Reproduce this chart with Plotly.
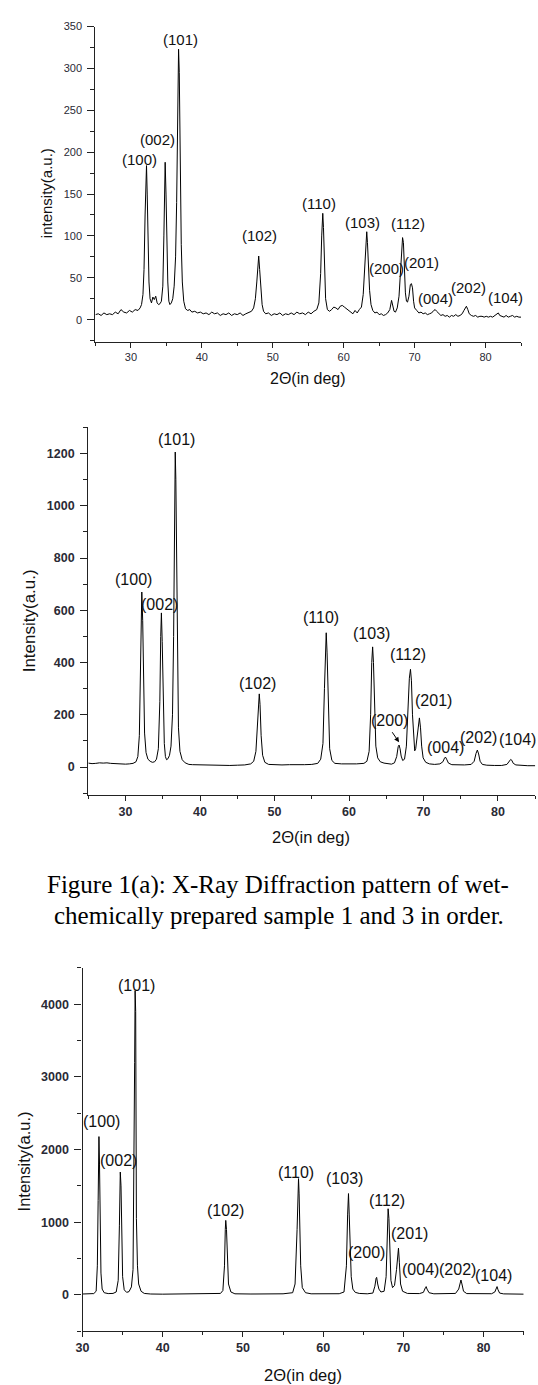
import plotly.graph_objects as go

# ---------------- data ----------------
# Sample 1 (top chart)
x1 = [25.0, 25.4, 25.8, 26.2, 26.6, 27.0, 27.4, 27.8, 28.2, 28.6, 29.0, 29.4, 29.8, 30.2, 30.6, 31.0,
      31.3, 31.5, 31.7, 31.85, 32.0, 32.1, 32.2, 32.3, 32.4, 32.55, 32.7, 32.9, 33.1, 33.3, 33.5, 33.7,
      33.9, 34.1, 34.3, 34.5, 34.65, 34.75, 34.83, 34.95, 35.05, 35.2, 35.35, 35.5, 35.7, 35.9, 36.1,
      36.3, 36.45, 36.6, 36.72, 36.82, 36.95, 37.1, 37.25, 37.45, 37.7, 38.0, 38.3, 38.6, 39.0, 39.4,
      39.8, 40.2, 40.6, 41.0, 41.4, 41.8, 42.2, 42.6, 43.0, 43.4, 43.8, 44.2, 44.6, 45.0, 45.4, 45.8,
      46.2, 46.6, 47.0, 47.3, 47.55, 47.75, 47.9, 48.02, 48.15, 48.3, 48.5, 48.7, 49.0, 49.4, 49.8,
      50.2, 50.6, 51.0, 51.4, 51.8, 52.2, 52.6, 53.0, 53.4, 53.8, 54.2, 54.6, 55.0, 55.4, 55.8, 56.2,
      56.5, 56.75, 56.9, 57.05, 57.15, 57.3, 57.45, 57.7, 58.0, 58.3, 58.6, 58.9, 59.2, 59.5, 59.8,
      60.1, 60.4, 60.7, 61.0, 61.3, 61.6, 61.9, 62.2, 62.5, 62.75, 62.95, 63.1, 63.25, 63.35, 63.5,
      63.65, 63.85, 64.1, 64.4, 64.7, 65.0, 65.3, 65.6, 65.9, 66.2, 66.5, 66.75, 66.9, 67.1, 67.3,
      67.55, 67.8, 68.0, 68.15, 68.3, 68.42, 68.55, 68.7, 68.85, 69.0, 69.2, 69.4, 69.55, 69.7, 69.85,
      70.0, 70.3, 70.6, 70.9, 71.2, 71.5, 71.8, 72.1, 72.4, 72.7, 72.9, 73.1, 73.4, 73.7, 74.0, 74.3,
      74.6, 74.9, 75.2, 75.5, 75.8, 76.1, 76.4, 76.7, 76.95, 77.15, 77.3, 77.5, 77.7, 78.0, 78.3,
      78.6, 78.9, 79.2, 79.5, 79.8, 80.1, 80.4, 80.7, 81.0, 81.3, 81.6, 81.8, 82.0, 82.3, 82.6, 82.9,
      83.2, 83.5, 83.8, 84.1, 84.4, 84.7, 85.0]
y1 = [6, 7, 5, 8, 6, 7, 6, 9, 7, 12, 9, 8, 11, 9, 12, 11,
      14, 18, 30, 60, 125, 170, 184, 150, 90, 45, 25, 20, 27, 24, 28, 20,
      18, 19, 22, 40, 100, 170, 188, 150, 100, 45, 22, 18, 20, 25, 40,
      75, 140, 260, 323, 295, 180, 90, 45, 22, 13, 11, 12, 9, 10, 8,
      9, 7, 8, 6, 9, 7, 8, 5, 7, 6, 8, 5, 7, 6, 8, 5,
      7, 9, 10, 14, 25, 45, 68, 76, 60, 35, 18, 10, 7, 8, 5,
      7, 6, 8, 5, 7, 6, 8, 6, 9, 7, 8, 6, 9, 7, 10, 12,
      20, 55, 100, 127, 110, 60, 25, 12, 10, 12, 15, 14, 12, 16, 17,
      15, 13, 11, 9, 7, 11, 8, 12, 15, 30, 60, 90, 105, 92, 60,
      35, 18, 11, 8, 9, 6, 7, 5, 6, 8, 12, 23, 16, 10, 9,
      14, 28, 55, 80, 98, 92, 60, 32, 22, 21, 28, 42, 43, 38, 22,
      14, 11, 8, 9, 7, 8, 6, 7, 8, 11, 12, 10, 7, 5, 6, 4,
      5, 3, 5, 4, 6, 4, 5, 7, 11, 15, 16, 12, 7, 5, 4,
      5, 3, 4, 4, 3, 4, 3, 4, 3, 5, 7, 8, 5, 4, 3, 5,
      3, 4, 5, 3, 4, 3, 3]

# Sample 3 (middle chart)
x2 = [25.0, 25.5, 26.0, 26.5, 27.0, 27.5, 28.0, 28.5, 29.0, 29.5, 30.0, 30.5, 31.0, 31.4, 31.65, 31.85,
      32.0, 32.1, 32.18, 32.3, 32.42, 32.55, 32.75, 33.0, 33.3, 33.6, 33.9, 34.15, 34.4, 34.6, 34.72,
      34.81, 34.92, 35.05, 35.2, 35.35, 35.5, 35.7, 35.9, 36.1, 36.3, 36.45, 36.58, 36.67, 36.75, 36.85,
      36.95, 37.1, 37.3, 37.6, 38.0, 38.5, 39.0, 40.0, 41.0, 42.0, 43.0, 44.0, 45.0, 46.0, 46.8, 47.2,
      47.5, 47.72, 47.85, 47.95, 48.05, 48.2, 48.4, 48.7, 49.2, 50.0, 51.0, 52.0, 53.0, 54.0, 55.0,
      55.8, 56.2, 56.5, 56.7, 56.85, 56.94, 57.05, 57.2, 57.4, 57.7, 58.1, 59.0, 60.0, 61.0, 62.0,
      62.4, 62.7, 62.9, 63.05, 63.17, 63.28, 63.42, 63.6, 63.85, 64.2, 64.7, 65.2, 65.7, 66.1, 66.4,
      66.6, 66.72, 66.85, 67.0, 67.2, 67.45, 67.7, 67.9, 68.1, 68.25, 68.38, 68.52, 68.68, 68.82,
      68.95, 69.1, 69.3, 69.45, 69.6, 69.75, 69.95, 70.3, 70.8, 71.5, 72.2, 72.6, 72.82, 72.95, 73.1,
      73.35, 73.8, 74.5, 75.5, 76.4, 76.8, 77.05, 77.23, 77.4, 77.6, 77.9, 78.5, 79.5, 80.5, 81.2,
      81.5, 81.7, 81.85, 82.05, 82.4, 83.0, 84.0, 85.0]
y2 = [15, 13, 14, 16, 15, 16, 14, 13, 12, 11, 11, 12, 14, 20, 40, 120,
      400, 580, 670, 560, 300, 130, 55, 30, 22, 18, 20, 30, 70, 250, 500,
      590, 480, 250, 90, 40, 28, 32, 45, 80, 200, 500, 1000, 1206, 1100, 800,
      400, 150, 60, 28, 16, 10, 9, 8, 7, 6, 7, 6, 7, 8, 12, 22,
      60, 180, 260, 280, 240, 120, 45, 18, 10, 8, 8, 9, 8, 9, 10,
      14, 30, 90, 300, 490, 514, 440, 220, 70, 25, 14, 12, 11, 12, 14,
      22, 60, 200, 400, 460, 400, 200, 80, 35, 20, 15, 12, 11, 16, 40,
      78, 84, 70, 42, 25, 30, 80, 220, 340, 374, 330, 200, 90, 62,
      70, 110, 175, 188, 150, 80, 35, 18, 12, 10, 12, 20, 34, 38, 30,
      15, 9, 8, 8, 10, 22, 52, 65, 50, 22, 10, 7, 6, 6, 10,
      20, 29, 26, 14, 8, 6, 5, 5]

# Sample (bottom chart)
x3 = [30.0, 30.5, 31.0, 31.4, 31.7, 31.85, 31.95, 32.05, 32.12, 32.2, 32.3, 32.45, 32.7, 33.2, 33.8,
      34.2, 34.45, 34.6, 34.71, 34.8, 34.9, 35.0, 35.2, 35.5, 35.8, 36.1, 36.3, 36.42, 36.5, 36.56,
      36.63, 36.72, 36.85, 37.0, 37.3, 37.7, 38.5, 40.0, 42.0, 44.0, 46.0, 47.2, 47.5, 47.7, 47.8,
      47.86, 47.95, 48.05, 48.2, 48.5, 49.0, 51.0, 53.0, 55.0, 56.2, 56.5, 56.75, 56.85, 56.93, 57.0,
      57.08, 57.2, 57.4, 57.8, 58.5, 60.0, 62.0, 62.6, 62.9, 63.05, 63.16, 63.25, 63.35, 63.5, 63.7,
      64.0, 64.5, 65.5, 66.2, 66.45, 66.6, 66.67, 66.8, 66.95, 67.2, 67.6, 67.85, 68.0, 68.1, 68.2,
      68.3, 68.45, 68.65, 68.9, 69.15, 69.3, 69.39, 69.5, 69.65, 69.9, 70.5, 72.0, 72.5, 72.75, 72.84,
      72.95, 73.2, 73.8, 75.0, 76.5, 76.9, 77.1, 77.18, 77.3, 77.5, 77.9, 79.0, 81.0, 81.4, 81.6,
      81.68, 81.8, 82.0, 82.5, 84.0, 85.0]
y3 = [12, 13, 14, 18, 50, 400, 1300, 2178, 1800, 800, 300, 80, 30, 18, 20,
      40, 200, 950, 1690, 1500, 600, 250, 70, 35, 45, 110, 350, 1600, 3200, 4183,
      3900, 1050, 400, 150, 50, 20, 12, 10, 10, 11, 12, 20, 60, 400, 900,
      1025, 900, 500, 150, 40, 15, 12, 13, 15, 30, 150, 900, 1350, 1600, 1400,
      1050, 400, 100, 30, 15, 14, 16, 40, 400, 1100, 1394, 1100, 600, 250, 80,
      35, 20, 15, 25, 120, 230, 241, 150, 80, 40, 50, 250, 800, 1185, 1050,
      600, 200, 100, 130, 350, 600, 643, 450, 150, 50, 20, 18, 35, 100, 114,
      80, 30, 15, 14, 20, 80, 190, 205, 150, 50, 18, 14, 16, 40, 105,
      114, 70, 25, 14, 12, 10]

peak_labels = ["(100)", "(002)", "(101)", "(102)", "(110)", "(103)",
               "(112)", "(200)", "(201)", "(004)", "(202)", "(104)"]
lab_x1 = [31.2, 33.8, 37.0, 48.1, 56.5, 62.7, 69.0, 66.0, 70.9, 72.9, 77.6, 82.8]
lab_y1 = [191, 215, 335, 101, 139, 116, 115, 61, 68, 25, 39, 27]
lab_x2 = [31.0, 34.6, 36.8, 47.7, 56.3, 63.0, 67.95, 65.45, 71.4, 72.95, 77.4, 82.6]
lab_y2 = [718, 623, 1253, 321, 572, 511, 429, 177, 255, 76, 112, 105]
lab_x3 = [32.35, 34.45, 36.73, 47.8, 56.56, 62.68, 67.95, 65.45, 70.8, 72.15, 76.7, 81.26]
lab_y3 = [2383, 1845, 4252, 1162, 1690, 1595, 1295, 582, 843, 348, 348, 264]

x_title = "2Θ(in deg)"
y_titles = ["intensity(a.u.)", "Intensity(a.u.)", "Intensity(a.u.)"]
caption = ["Figure 1(a): X-Ray Diffraction pattern of wet-",
           "chemically prepared sample 1 and 3 in order."]

# ---------------- figure ----------------
W, H = 538, 1385
SANS = "Liberation Sans, Arial, sans-serif"
SERIF = "Liberation Serif, Times New Roman, serif"
AX = "#222222"

fig = go.Figure()
for i, (xs, ys) in enumerate([(x1, y1), (x2, y2), (x3, y3)]):
    suf = "" if i == 0 else str(i + 1)
    fig.add_trace(go.Scatter(x=xs, y=ys, mode="lines", xaxis="x" + suf, yaxis="y" + suf,
                             line=dict(color="black", width=1), showlegend=False,
                             hoverinfo="skip"))

def py(p):  # pixel row -> paper fraction
    return 1 - p / H

def px(p):
    return p / W

panels = [
    dict(xd=[px(89.6), px(520.8)], yd=[py(337.3), py(20.7)], xr=[25, 85], yr=[-26.5, 350],
         ydt=50, ymin=25, tf=11, tw="normal"),
    dict(xd=[px(82.4), px(535.2)], yd=[py(792.3), py(423.3)], xr=[25, 85], yr=[-106.6, 1300],
         ydt=200, ymin=100, tf=12.5, tw="bold"),
    dict(xd=[px(76.5), px(523.5)], yd=[py(1331), py(966)], xr=[30, 85], yr=[-500, 4500],
         ydt=1000, ymin=500, tf=12.5, tw="bold"),
]

for i, p in enumerate(panels):
    suf = "" if i == 0 else str(i + 1)
    tfont = dict(family=SANS, size=p["tf"], color="#2a2a35", weight=p["tw"])
    fig.layout["xaxis" + suf] = dict(
        domain=p["xd"], range=p["xr"], anchor="y" + suf, showgrid=False, zeroline=False,
        showline=True, linecolor=AX, linewidth=1.3, ticks="outside", ticklen=5, tickwidth=1.2,
        tickcolor=AX, dtick=10, tick0=0, tickfont=tfont,
        minor=dict(ticks="outside", ticklen=3, dtick=5, tick0=0, tickcolor=AX, tickwidth=1),
        fixedrange=True)
    fig.layout["yaxis" + suf] = dict(
        domain=p["yd"], range=p["yr"], anchor="x" + suf, showgrid=False, zeroline=False,
        showline=True, linecolor=AX, linewidth=1.3, ticks="outside", ticklen=7, tickwidth=1.2,
        tickcolor=AX, dtick=p["ydt"], tick0=0, ticklabelstandoff=3, tickfont=tfont,
        minor=dict(ticks="outside", ticklen=4, dtick=p["ymin"], tick0=0, tickcolor=AX, tickwidth=1),
        fixedrange=True)

annotations = []
for i, (lx, ly, fs) in enumerate([(lab_x1, lab_y1, 15), (lab_x2, lab_y2, 16), (lab_x3, lab_y3, 16)]):
    suf = "" if i == 0 else str(i + 1)
    for t, xx, yy in zip(peak_labels, lx, ly):
        annotations.append(dict(x=xx, y=yy, xref="x" + suf, yref="y" + suf, text=t,
                                showarrow=False, xanchor="center", yanchor="middle",
                                font=dict(family=SANS, size=fs, color="#111")))

# arrow pointing to the (200) peak in the middle chart
annotations.append(dict(x=66.72, y=95, ax=65.66, ay=139, xref="x2", yref="y2",
                        axref="x2", ayref="y2", text="", showarrow=True, arrowhead=2,
                        arrowsize=1, arrowwidth=1, arrowcolor="black"))

# axis titles
for (cx, cy, fs) in [(305, 374, 16), (307.6, 835, 16.5), (300.2, 1375, 16.5)]:
    annotations.append(dict(x=px(cx), y=py(cy), xref="paper", yref="paper", text=x_title,
                            showarrow=False, xanchor="center", yanchor="middle",
                            font=dict(family=SANS, size=fs, color="#111")))
for (cx, cy, fs), t in zip([(39.5, 188, 15), (22.3, 618, 17), (16.7, 1160, 16.5)], y_titles):
    annotations.append(dict(x=px(cx), y=py(cy), xref="paper", yref="paper", text=t,
                            showarrow=False, xanchor="center", yanchor="middle", textangle=-90,
                            font=dict(family=SANS, size=fs, color="#111")))

# caption
for (cx, cy), t in zip([(274.5, 883.3), (275.3, 913.3)], caption):
    annotations.append(dict(x=px(cx), y=py(cy), xref="paper", yref="paper", text=t,
                            showarrow=False, xanchor="center", yanchor="middle",
                            font=dict(family=SERIF, size=25, color="black")))

fig.update_layout(width=W, height=H, autosize=False, margin=dict(l=0, r=0, t=0, b=0, pad=0),
                  paper_bgcolor="white", plot_bgcolor="white", annotations=annotations,
                  showlegend=False)

fig.write_html("out.html", config={"displayModeBar": False},
               post_script="document.body.style.margin='0px';")
